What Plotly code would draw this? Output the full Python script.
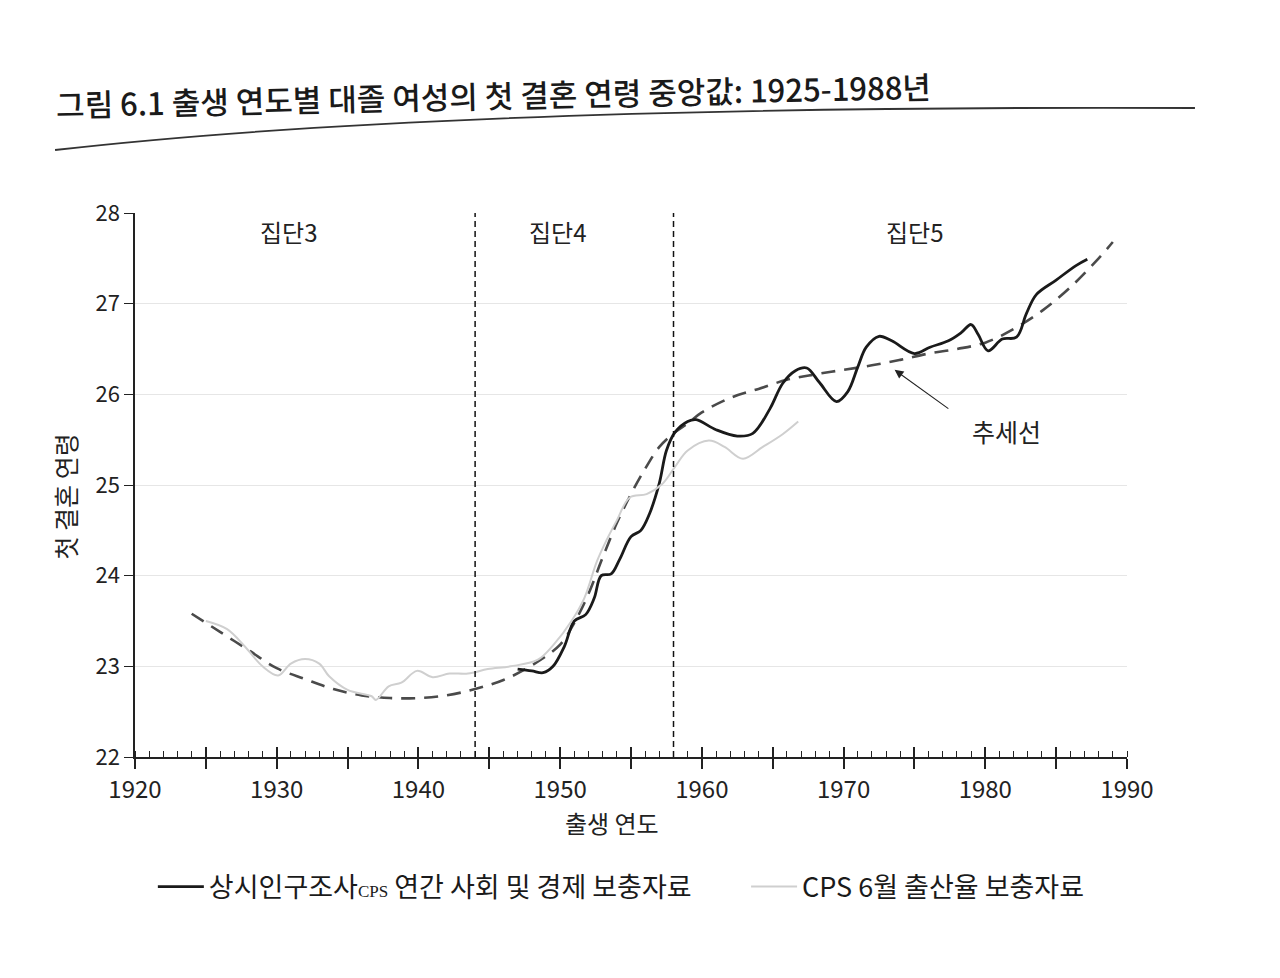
import plotly.graph_objects as go

# 상시인구조사 CPS 연간 사회 및 경제 보충자료 (black line)
asec_year = [1947.0, 1948.0, 1948.8, 1949.5, 1950.3, 1951.0, 1951.8, 1952.4, 1952.9, 1953.6,
             1954.2, 1955.0, 1955.7, 1956.3, 1957.0, 1957.5, 1958.1, 1959.0, 1959.6, 1961.0,
             1962.5, 1963.6, 1964.8, 1965.7, 1966.6, 1967.4, 1968.3, 1969.5, 1970.3, 1971.0,
             1971.6, 1972.5, 1973.4, 1975.0, 1976.1, 1977.4, 1978.3, 1979.0, 1979.5, 1980.2,
             1981.2, 1982.2, 1982.9, 1983.6, 1985.0, 1986.4, 1987.2]
asec_age = [22.97, 22.95, 22.93, 23.0, 23.22, 23.5, 23.57, 23.75, 24.0, 24.02,
            24.18, 24.43, 24.5, 24.68, 25.02, 25.38, 25.58, 25.7, 25.72, 25.61,
            25.54, 25.57, 25.84, 26.12, 26.26, 26.29, 26.13, 25.92, 26.03, 26.3,
            26.52, 26.64, 26.59, 26.45, 26.52, 26.59, 26.68, 26.77, 26.66, 26.48,
            26.61, 26.63, 26.89, 27.1, 27.26, 27.42, 27.49]

# CPS 6월 출산율 보충자료 (light grey line)
fert_year = [1925.0, 1926.5, 1927.8, 1929.0, 1930.1, 1931.0, 1932.0, 1933.0, 1933.7, 1935.0,
             1936.7, 1937.0, 1937.9, 1938.8, 1939.9, 1941.0, 1942.2, 1943.5, 1944.9, 1946.5,
             1948.4, 1949.6, 1950.8, 1951.7, 1952.6, 1953.3, 1954.0, 1954.9, 1956.1, 1957.2,
             1958.1, 1959.0, 1960.5, 1961.6, 1962.9, 1964.3, 1965.7, 1966.8]
fert_age = [23.5, 23.41, 23.21, 23.0, 22.9, 23.03, 23.08, 23.03, 22.89, 22.74,
            22.67, 22.63, 22.78, 22.82, 22.95, 22.88, 22.92, 22.92, 22.97, 23.0,
            23.07, 23.25, 23.5, 23.75, 24.16, 24.4, 24.61, 24.86, 24.9, 25.01,
            25.2, 25.38, 25.49, 25.42, 25.29, 25.42, 25.56, 25.7]

# 추세선 (dashed trend)
trend_year = [1924, 1926, 1928, 1930, 1932, 1934, 1936, 1938, 1940, 1942, 1944, 1946, 1948,
              1950, 1951, 1952, 1953, 1954, 1955, 1956, 1957, 1958, 1959, 1960, 1962, 1964,
              1966, 1968, 1970, 1972, 1974, 1976, 1978, 1980, 1982, 1984, 1986, 1988, 1989]
trend_age = [23.58, 23.38, 23.18, 22.98, 22.86, 22.75, 22.68, 22.65, 22.65, 22.68, 22.75, 22.85, 23.01,
             23.24, 23.48, 23.8, 24.2, 24.58, 24.9, 25.18, 25.42, 25.57, 25.68, 25.8, 25.96, 26.06,
             26.16, 26.22, 26.27, 26.32, 26.38, 26.45, 26.5, 26.57, 26.72, 26.92, 27.18, 27.5, 27.68]

cohort_breaks = [1944, 1958]
cohort_labels = ["집단3", "집단4", "집단5"]
cohort_label_x = [1930.8, 1949.8, 1975.0]

x_ticks = list(range(1920, 1991, 5))
x_ticktext = [str(v) if v % 10 == 0 else "" for v in x_ticks]

KR = "Noto Sans CJK KR, Noto Sans, sans-serif"

fig = go.Figure()

fig.add_trace(go.Scatter(
    x=trend_year, y=trend_age, mode="lines", showlegend=False,
    line=dict(color="#4a4a4a", width=2.6, dash="14px,9px", shape="spline", smoothing=1.0),
    hoverinfo="skip",
))
fig.add_trace(go.Scatter(
    x=asec_year, y=asec_age, mode="lines", legend="legend",
    name="상시인구조사<span style='font-family:Liberation Serif;font-size:17px'>CPS</span> 연간 사회 및 경제 보충자료",
    line=dict(color="#1a1a1a", width=2.8, shape="spline", smoothing=1.0),
))
fig.add_trace(go.Scatter(
    x=fert_year, y=fert_age, mode="lines", legend="legend2",
    name="CPS 6월 출산율 보충자료",
    line=dict(color="#cfcfcf", width=2, shape="spline", smoothing=1.0),
))
# second x axis only for the upward half of the 5-year ticks
fig.add_trace(go.Scatter(x=[1920], y=[22], xaxis="x2", mode="markers",
                         marker=dict(opacity=0), showlegend=False, hoverinfo="skip"))

for b in cohort_breaks:
    fig.add_shape(type="line", x0=b, x1=b, y0=22, y1=28.1, xref="x", yref="y",
                  line=dict(color="#111", width=1.5, dash="6px,4px"))

for lab, lx in zip(cohort_labels, cohort_label_x):
    fig.add_annotation(x=lx, y=27.8, text=lab, showarrow=False,
                       font=dict(size=24, color="#222", family=KR))

# trend arrow
fig.add_annotation(x=1973.6, y=26.27, ax=1977.5, ay=25.83, axref="x", ayref="y",
                   text="", showarrow=True, arrowhead=2, arrowsize=1.6, arrowwidth=1.1,
                   arrowcolor="#222")
fig.add_annotation(x=1981.5, y=25.6, text="추세선", showarrow=False,
                   font=dict(size=25, color="#222", family=KR))

# axis titles
fig.add_annotation(x=-0.071, y=0.478, xref="paper", yref="paper", xanchor="center",
                   yanchor="middle", text="첫 결혼 연령", textangle=-90, showarrow=False,
                   font=dict(size=25, color="#222", family=KR))
fig.add_annotation(x=0.481, y=-0.121, xref="paper", yref="paper", xanchor="center",
                   yanchor="middle", text="출생 연도", showarrow=False,
                   font=dict(size=24, color="#222", family=KR))

# title and its underline
fig.add_annotation(x=0.361, y=1.217, xref="paper", yref="paper", xanchor="center",
                   yanchor="middle",
                   text="그림 6.1 출생 연도별 대졸 여성의 첫 결혼 연령 중앙값: 1925-1988년",
                   textangle=-1.2, showarrow=False,
                   font=dict(size=31, color="#1a1a1a", family=KR, weight=500))
fig.add_shape(type="path", xref="paper", yref="paper",
              path="M -0.0806 1.1158 Q 0.3175 1.1985 1.0685 1.193",
              line=dict(color="#333", width=1.8))

legend_style = dict(
    orientation="h", y=-0.239, xanchor="left", yanchor="middle", itemwidth=46,
    font=dict(size=27, color="#1a1a1a", family=KR), bgcolor="rgba(0,0,0,0)",
)

fig.update_layout(
    width=1272, height=970,
    margin=dict(l=127, r=153, t=205, b=221, autoexpand=False),
    paper_bgcolor="white", plot_bgcolor="white",
    font=dict(family=KR, color="#222"),
    xaxis=dict(
        range=[1920, 1990], tickvals=x_ticks, ticktext=x_ticktext,
        ticks="outside", ticklen=10, tickwidth=1.5, tickcolor="#222",
        showline=True, linecolor="#222", linewidth=1.5, showgrid=False, zeroline=False,
        tickfont=dict(size=24, color="#222"),
        minor=dict(dtick=1, ticks="inside", ticklen=6, tickwidth=1.2, tickcolor="#222"),
    ),
    xaxis2=dict(
        range=[1920, 1990], overlaying="x", side="bottom", anchor="y",
        tickvals=x_ticks, ticktext=["" for v in x_ticks],
        ticks="inside", ticklen=10, tickwidth=1.5, tickcolor="#222",
        showline=False, showgrid=False, zeroline=False,
    ),
    yaxis=dict(
        range=[22, 28], dtick=1, ticks="outside", ticklen=9, tickwidth=1.2, tickcolor="#222",
        showline=True, linecolor="#222", linewidth=1.5, zeroline=False,
        showgrid=True, gridcolor="#e6e6e6", gridwidth=1,
        tickfont=dict(size=22, color="#222"),
    ),
    legend=dict(x=0.018, **legend_style),
    legend2=dict(x=0.616, **legend_style),
)

fig.write_html("out.html")
